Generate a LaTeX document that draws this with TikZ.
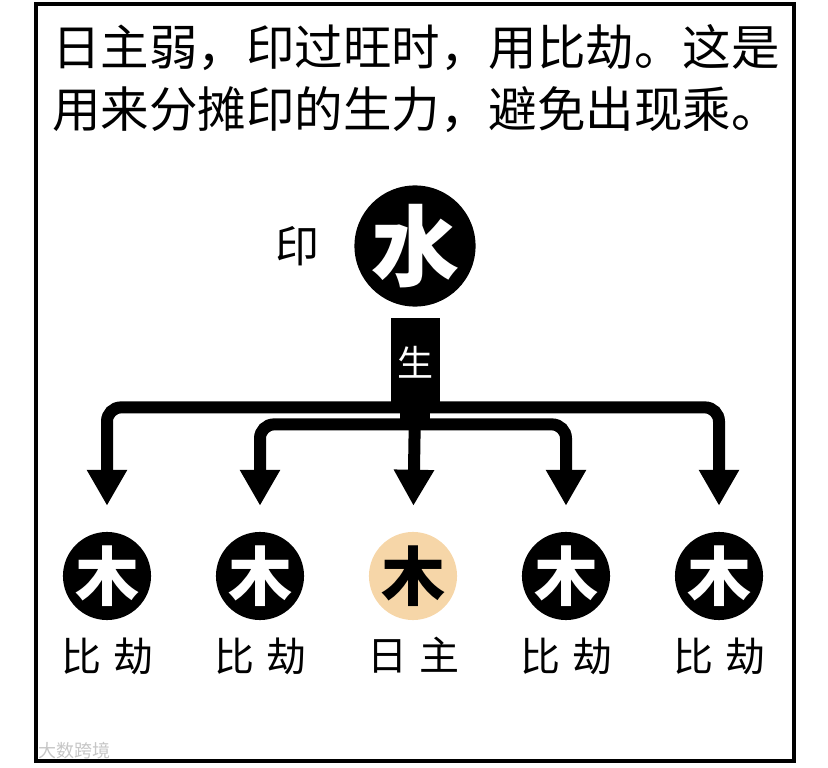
\documentclass[tikz,border=0pt]{standalone}
\usepackage{fontspec}
\usepackage{xcolor}
\usetikzlibrary{arrows.meta, positioning, calc}
\newfontfamily\cjk{Noto Sans CJK SC}
\definecolor{daypeach}{HTML}{F6D6A8}
\newcommand{\spread}[2]{#1\hspace{12pt}#2}

\begin{document}
\begin{tikzpicture}[x=1pt, y=-1pt, every node/.style={font=\cjk, inner sep=0pt},
  element/.style={circle, fill=black, text=white, minimum size=84pt, font=\cjk\bfseries\fontsize{64}{64}\selectfont},
  peer/.style={element},
  self/.style={element, fill=daypeach, text=black},
  fork/.style={line width=12pt, rounded corners=14pt, -{Triangle[length=36pt, width=38pt]}, shorten >=26pt},
  tag/.style={font=\cjk\fontsize{40}{40}\selectfont}]
  \useasboundingbox (0,0) rectangle (828,768);
  \draw[line width=4pt] (36,4) rectangle (794,761);
  % title
  \node[anchor=base west, font=\cjk\fontsize{48.5}{48.5}\selectfont] (line1) at (52,66) {日主弱，印过旺时，用比劫。这是};
  \node[anchor=base west, font=\cjk\fontsize{48.5}{48.5}\selectfont] (line2) at (52,128) {用来分摊印的生力，避免出现乘。};
  % seal element
  \node[element, minimum size=110pt, font=\cjk\bfseries\fontsize{88}{88}\selectfont] (water) at (415,246) {水};
  \node[left=35pt of water, font=\cjk\fontsize{44}{44}\selectfont] (yin) {印};
  \node[fill=black, text=white, minimum width=49pt, minimum height=89pt, anchor=north,
    font=\cjk\fontsize{36}{36}\selectfont] (sheng) at (415,318) {生};
  \coordinate (hub) at ($(sheng.south)+(0,17)$);
  % wood elements
  \foreach \i/\kind/\lab in {1/peer/{\spread{比}{劫}}, 2/peer/{\spread{比}{劫}}, 3/self/{\spread{日}{主}},
      4/peer/{\spread{比}{劫}}, 5/peer/{\spread{比}{劫}}} {
    \node[\kind] (w\i) at ({107+153*(\i-1)}, 576) {木};
    \node[tag, below=17pt of w\i] (t\i) {\lab};
  }
  % connectors
  \draw[line width=30pt] (sheng.south) -- (hub);
  \draw[fork] (sheng.south) -| (w1.north);
  \draw[fork] (sheng.south) -| (w5.north);
  \draw[fork] (hub) -| (w2.north);
  \draw[fork] (hub) -| (w4.north);
  \draw[fork] (sheng.south) -- (w3.north);
  \node[font=\cjk\fontsize{18}{18}\selectfont, text=gray!45] (mark) at (74,751) {大数跨境};
\end{tikzpicture}
\end{document}
